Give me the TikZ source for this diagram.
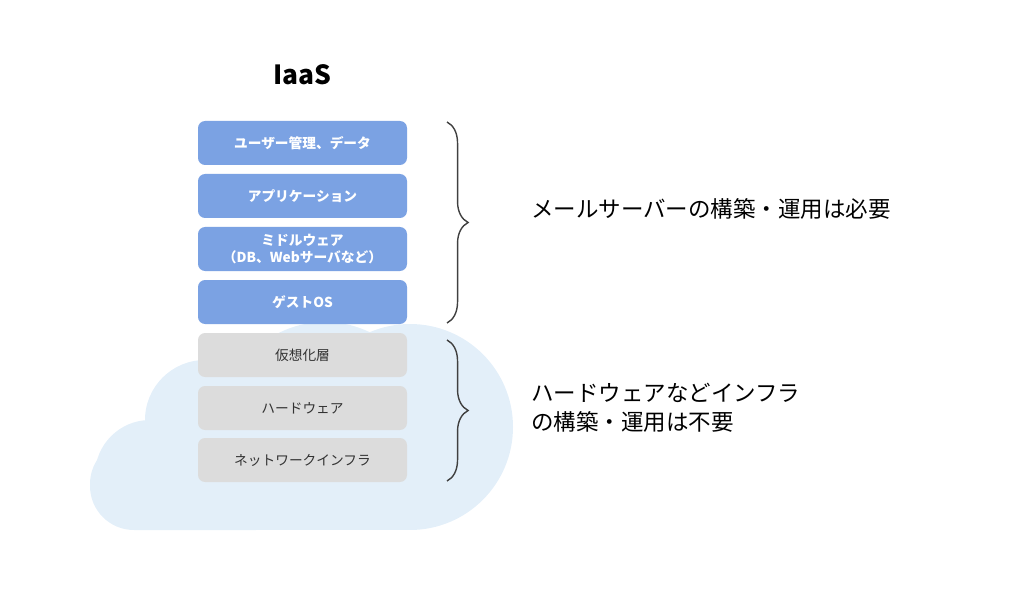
\documentclass[tikz,border=0pt]{standalone}
\usepackage{fontspec}
\setmainfont{Noto Sans CJK JP}
\usetikzlibrary{decorations.pathreplacing}
\definecolor{blu}{HTML}{7BA2E3}
\definecolor{gry}{HTML}{DCDCDC}
\definecolor{cld}{HTML}{E3EFF9}
\begin{document}
\begin{tikzpicture}[x=0.02cm,y=-0.02cm,
 layer/.style={rounded corners=4pt,minimum width=209*0.02cm,minimum height=44*0.02cm,inner sep=0pt,align=center,font=\fontsize{7.8}{9.2}\selectfont},
 up/.style={layer,fill=blu,text=white,font=\bfseries\fontsize{7.8}{9.2}\selectfont},
 low/.style={layer,fill=gry,text=black!80},
 br/.style={decorate,decoration={brace,amplitude=12pt},line width=0.8pt,black!75},
 lbl/.style={anchor=west,align=left,font=\fontsize{12.8}{16.5}\selectfont}]
\useasboundingbox (0,0) rectangle (1024,591);
% cloud
\fill[cld] (325,425) circle (103);
\fill[cld] (410,427) circle (103);
\fill[cld] (205,420) circle (60);
\fill[cld] (150,475) circle (55);
\fill[cld] (150,420) rectangle (410,530);
\fill[cld, rounded corners=25pt] (90,440) rectangle (300,530);
\node[font=\bfseries\fontsize{15}{18}\selectfont] (t) at (302,75) {IaaS};
\node[up] (b1) at (302.5,143) {ユーザー管理、データ};
\node[up] (b2) at (302.5,196) {アプリケーション};
\node[up] (b3) at (302.5,249) {ミドルウェア\\（DB、Webサーバなど）};
\node[up] (b4) at (302.5,302) {ゲストOS};
\node[low] (b5) at (302.5,355) {仮想化層};
\node[low] (b6) at (302.5,408) {ハードウェア};
\node[low] (b7) at (302.5,460) {ネットワークインフラ};
\coordinate (p1) at (447,122); \coordinate (p2) at (447,323);
\coordinate (p3) at (447,340); \coordinate (p4) at (447,481);
\draw[br] (p1) -- (p2);
\draw[br] (p3) -- (p4);
\node[lbl] (l1) at (525,209) {メールサーバーの構築・運用は必要};
\node[lbl] (l2) at (525,408) {ハードウェアなどインフラ\\の構築・運用は不要};
\end{tikzpicture}
\end{document}
